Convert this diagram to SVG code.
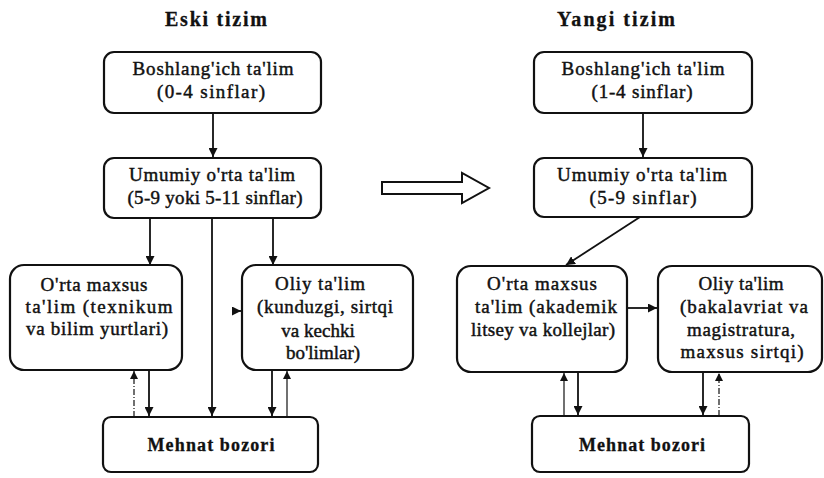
<svg xmlns="http://www.w3.org/2000/svg" width="824" height="478" viewBox="0 0 824 478">
<style>
.box{fill:#fff;stroke:#111;stroke-width:2.2}
.t{font-family:"Liberation Serif","Times New Roman",serif;font-size:19px;fill:#111;stroke:#111;stroke-width:0.45;text-anchor:middle}
.b{font-weight:bold;stroke-width:0.3}
.c{stroke:#111;stroke-width:1.8;fill:none}
.thin{stroke:#111;stroke-width:1.2;fill:none}
.dash{stroke:#111;stroke-width:1.2;fill:none;stroke-dasharray:6 2 1 2}
</style>
<defs>
<marker id="ah" viewBox="0 0 10 10" refX="10" refY="5" markerWidth="5" markerHeight="5" markerUnits="strokeWidth" orient="auto">
<path d="M0,0 L10,5 L0,10 z" fill="#111"/>
</marker>
<marker id="ah2" viewBox="0 0 10 10" refX="10" refY="5" markerWidth="7" markerHeight="7" markerUnits="strokeWidth" orient="auto">
<path d="M0,0 L10,5 L0,10 z" fill="#111"/>
</marker>
</defs>
<rect width="824" height="478" fill="#fff"/>
<text class="t b" x="216" y="26" style="font-size:20px" textLength="102" lengthAdjust="spacing">Eski tizim</text>
<text class="t b" x="616" y="26" style="font-size:20px" textLength="118" lengthAdjust="spacing">Yangi tizim</text>

<g id="connectors">
<line class="c" x1="213" y1="113" x2="213" y2="157" marker-end="url(#ah)"/>
<line class="c" x1="150" y1="218" x2="150" y2="265" marker-end="url(#ah)"/>
<line class="c" x1="273" y1="218" x2="273" y2="265" marker-end="url(#ah)"/>
<line class="c" x1="212" y1="218" x2="212" y2="416" marker-end="url(#ah)"/>
<line class="c" x1="149" y1="370" x2="149" y2="416" marker-end="url(#ah)"/>
<line class="dash" x1="134" y1="417" x2="134" y2="371" marker-end="url(#ah2)"/>
<line class="c" x1="272" y1="370" x2="272" y2="416" marker-end="url(#ah)"/>
<line class="thin" x1="287" y1="417" x2="287" y2="371" marker-end="url(#ah2)"/>
<line class="c" x1="233" y1="311" x2="241" y2="311" marker-end="url(#ah)"/>
<line class="c" x1="643" y1="113" x2="643" y2="157" marker-end="url(#ah)"/>
<line class="c" x1="640" y1="217" x2="566" y2="265" marker-end="url(#ah)"/>
<line class="c" x1="627" y1="308" x2="657" y2="308" marker-end="url(#ah)"/>
<line class="c" x1="578" y1="372" x2="578" y2="415" marker-end="url(#ah)"/>
<line class="thin" x1="564" y1="416" x2="564" y2="373" marker-end="url(#ah2)"/>
<line class="c" x1="703" y1="372" x2="703" y2="415" marker-end="url(#ah)"/>
<line class="dash" x1="719" y1="416" x2="719" y2="373" marker-end="url(#ah2)"/>
<polygon points="382,182 462,182 462,173 489,188 462,203 462,194 382,194" fill="#fff" stroke="#111" stroke-width="2"/>
</g>

<g id="eski-boshlang">
<rect class="box" x="104" y="52" width="217" height="61" rx="10"/>
<text class="t" x="213" y="75" textLength="161" lengthAdjust="spacing">Boshlang'ich ta'lim</text>
<text class="t" x="211" y="98" textLength="108" lengthAdjust="spacing">(0-4 sinflar)</text>
</g>
<g id="eski-umumiy">
<rect class="box" x="104" y="158" width="217" height="60" rx="10"/>
<text class="t" x="212" y="181" textLength="166" lengthAdjust="spacing">Umumiy o'rta ta'lim</text>
<text class="t" x="215" y="204" textLength="175" lengthAdjust="spacing">(5-9 yoki 5-11 sinflar)</text>
</g>
<g id="eski-orta">
<rect class="box" x="10" y="265" width="172" height="105" rx="14"/>
<text class="t" x="94" y="291" textLength="107" lengthAdjust="spacing">O'rta maxsus</text>
<text class="t" x="99" y="313" textLength="147" lengthAdjust="spacing">ta'lim (texnikum</text>
<text class="t" x="97" y="335" textLength="142" lengthAdjust="spacing">va bilim yurtlari)</text>
</g>
<g id="eski-oliy">
<rect class="box" x="242" y="265" width="171" height="105" rx="14"/>
<text class="t" x="320" y="290" textLength="90" lengthAdjust="spacing">Oliy ta'lim</text>
<text class="t" x="325" y="313" textLength="136" lengthAdjust="spacing">(kunduzgi, sirtqi</text>
<text class="t" x="318" y="337">va kechki</text>
<text class="t" x="323" y="359">bo'limlar)</text>
</g>
<g id="eski-mehnat">
<rect class="box" x="103" y="417" width="215" height="55" rx="8"/>
<text class="t b" x="211" y="451" style="font-size:18px" textLength="127" lengthAdjust="spacing">Mehnat bozori</text>
</g>

<g id="yangi-boshlang">
<rect class="box" x="534" y="52" width="218" height="61" rx="10"/>
<text class="t" x="643" y="75" textLength="163" lengthAdjust="spacing">Boshlang'ich ta'lim</text>
<text class="t" x="642" y="98" textLength="101" lengthAdjust="spacing">(1-4 sinflar)</text>
</g>
<g id="yangi-umumiy">
<rect class="box" x="534" y="158" width="218" height="59" rx="10"/>
<text class="t" x="642" y="181" textLength="170" lengthAdjust="spacing">Umumiy o'rta ta'lim</text>
<text class="t" x="643" y="204" textLength="107" lengthAdjust="spacing">(5-9 sinflar)</text>
</g>
<g id="yangi-orta">
<rect class="box" x="457" y="266" width="170" height="106" rx="14"/>
<text class="t" x="542" y="290" textLength="110" lengthAdjust="spacing">O'rta maxsus</text>
<text class="t" x="546" y="313" textLength="142" lengthAdjust="spacing">ta'lim (akademik</text>
<text class="t" x="543" y="336" textLength="144" lengthAdjust="spacing">litsey va kollejlar)</text>
</g>
<g id="yangi-oliy">
<rect class="box" x="658" y="266" width="164" height="106" rx="14"/>
<text class="t" x="741" y="290" textLength="85" lengthAdjust="spacing">Oliy ta'lim</text>
<text class="t" x="744" y="313" textLength="128" lengthAdjust="spacing">(bakalavriat va</text>
<text class="t" x="741" y="336" textLength="108" lengthAdjust="spacing">magistratura,</text>
<text class="t" x="742" y="358" textLength="123" lengthAdjust="spacing">maxsus sirtqi)</text>
</g>
<g id="yangi-mehnat">
<rect class="box" x="532" y="416" width="217" height="56" rx="8"/>
<text class="t b" x="642" y="451" style="font-size:18px" textLength="126" lengthAdjust="spacing">Mehnat bozori</text>
</g>
</svg>
